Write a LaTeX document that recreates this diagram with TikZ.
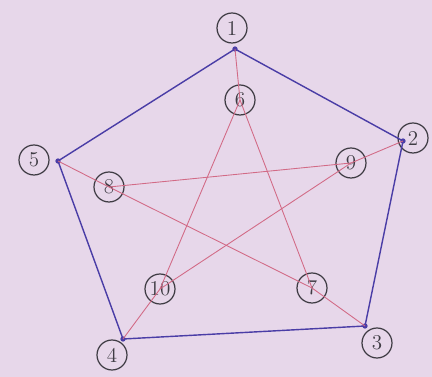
\documentclass[tikz,border=0pt]{standalone}
\usetikzlibrary{positioning}
\definecolor{paper}{HTML}{E7D7EA}
\definecolor{inkblue}{HTML}{4A3DA6}
\definecolor{inkred}{HTML}{D26A86}
\definecolor{pencil}{HTML}{3F3C44}

\begin{document}
\begin{tikzpicture}[
      x=0.02cm, y=-0.02cm,
      dot/.style={circle, fill=inkblue, inner sep=0pt, minimum size=3pt},
      tag/.style={
        circle,
        draw=pencil,
        line width=0.7pt,
        inner sep=0pt,
        minimum size=0.6cm,
        font=\large\color{pencil}
      },
      outer/.style={line width=0.8pt, inkblue},
      spoke/.style={line width=0.5pt, inkred}
    ]
      \fill[paper] (0,0) rectangle (432,377);
      \useasboundingbox (0,0) rectangle (432,377);

      % outer vertices
      \node[dot] (v1) at (235,49) {};
      \node[dot] (v2) at (403,141) {};
      \node[dot] (v3) at (365,326) {};
      \node[dot] (v4) at (123,339) {};
      \node[dot] (v5) at (58,161) {};

      \node[tag] (l1) at (232,28) {1};
      \node[tag] (l2) at (413,138) {2};
      \node[tag] (l3) at (377,343) {3};
      \node[tag] (l4) at (112,355) {4};
      \node[tag] (l5) at (34,160) {5};

      % inner vertices
      \node[tag] (v6) at (240,100) {6};
      \node[tag] (v7) at (312,288) {7};
      \node[tag] (v8) at (109,187) {8};
      \node[tag] (v9) at (351,163) {9};
      \node[tag] (v10) at (160,289) {10};

      \draw[outer] (v1.center) -- (v2.center) -- (v3.center)
        -- (v4.center) -- (v5.center) -- (v1.center);

      \draw[spoke] (v1.center) -- (v6.center);
      \draw[spoke] (v2.center) -- (v9.center);
      \draw[spoke] (v3.center) -- (v7.center);
      \draw[spoke] (v4.center) -- (v10.center);
      \draw[spoke] (v5.center) -- (v8.center);

      \draw[spoke] (v6.center) -- (v7.center);
      \draw[spoke] (v6.center) -- (v10.center);
      \draw[spoke] (v8.center) -- (v9.center);
      \draw[spoke] (v8.center) -- (v7.center);
      \draw[spoke] (v9.center) -- (v10.center);
    \end{tikzpicture}
\end{document}
